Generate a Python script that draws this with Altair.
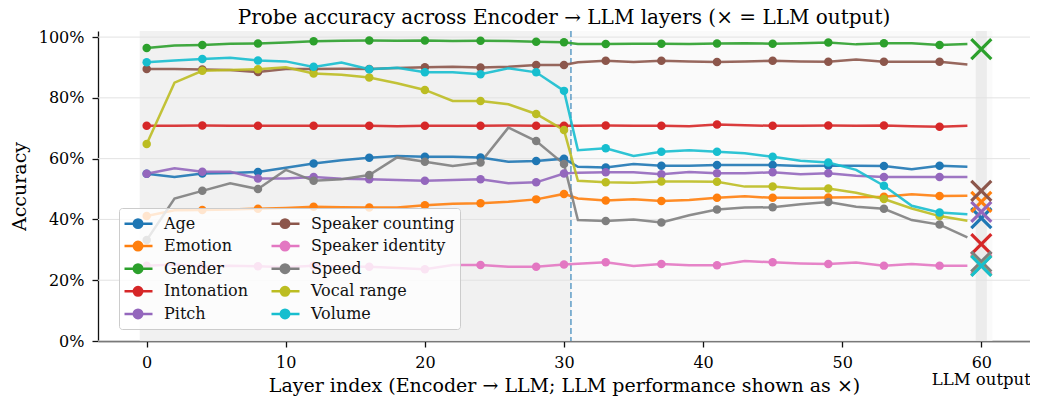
import altair as alt
import pandas as pd

series = ["Age", "Emotion", "Gender", "Intonation", "Pitch",
          "Speaker counting", "Speaker identity", "Speed", "Vocal range", "Volume"]
colors = ["#1f77b4", "#ff7f0e", "#2ca02c", "#d62728", "#9467bd",
          "#8c564b", "#e377c2", "#7f7f7f", "#bcbd22", "#17becf"]

enc_layers = list(range(0, 31, 2))
llm_layers = list(range(31, 60, 2))
marker_layers = [0, 4, 8, 12, 16, 20, 24, 28, 30, 33, 37, 41, 45, 49, 53, 57]
output_x = 60

age_enc = [55.0, 54.0, 55.1, 55.3, 55.6, 57.0, 58.4, 59.5, 60.3, 60.9, 60.6, 60.6, 60.4, 59.0, 59.2, 60.0]
age_llm = [57.3, 57.1, 58.2, 57.7, 57.7, 57.9, 57.9, 57.9, 57.6, 57.7, 57.7, 57.6, 56.5, 57.7, 57.3]
emotion_enc = [41.1, 43.0, 43.1, 43.3, 43.5, 43.8, 44.2, 44.0, 43.9, 43.9, 44.7, 45.2, 45.3, 45.8, 46.6, 48.4]
emotion_llm = [46.9, 46.2, 46.6, 46.1, 46.4, 47.1, 47.6, 47.1, 47.1, 47.2, 47.3, 47.5, 48.3, 47.7, 47.8]
gender_enc = [96.4, 97.2, 97.4, 97.8, 97.9, 98.2, 98.6, 98.8, 98.9, 98.8, 98.9, 98.7, 98.8, 98.7, 98.5, 98.3]
gender_llm = [97.7, 97.7, 97.8, 97.8, 97.7, 97.9, 98.0, 97.8, 98.0, 98.2, 97.6, 98.0, 98.0, 97.4, 97.7]
inton_enc = [70.8, 70.8, 70.9, 70.8, 70.8, 70.8, 70.8, 70.8, 70.8, 70.7, 70.8, 70.8, 70.8, 70.9, 70.8, 70.8]
inton_llm = [70.8, 70.9, 70.8, 70.8, 70.7, 71.2, 71.0, 70.8, 70.8, 70.9, 70.8, 70.9, 70.7, 70.5, 70.8]
pitch_enc = [55.0, 56.8, 55.7, 55.7, 53.5, 53.5, 54.0, 53.4, 53.2, 53.0, 52.7, 53.0, 53.2, 51.9, 52.2, 55.1]
pitch_llm = [55.4, 55.5, 55.5, 54.9, 55.6, 55.2, 55.2, 55.5, 54.9, 55.2, 54.4, 54.0, 54.0, 54.0, 54.0]
spkcnt_enc = [89.5, 89.5, 89.3, 89.2, 88.5, 89.5, 89.5, 89.6, 89.5, 89.8, 90.1, 90.2, 90.0, 90.2, 90.8, 90.8]
spkcnt_llm = [91.7, 92.2, 91.8, 92.2, 92.0, 91.8, 92.0, 92.2, 92.0, 91.9, 92.6, 91.9, 91.9, 91.9, 91.0]
spkid_enc = [24.8, 25.2, 24.5, 24.8, 24.6, 24.3, 24.8, 24.5, 24.4, 24.0, 23.6, 25.0, 25.0, 24.4, 24.4, 25.2]
spkid_llm = [25.4, 25.9, 24.7, 25.3, 24.9, 24.9, 26.3, 25.9, 25.5, 25.3, 25.8, 24.8, 25.3, 24.8, 24.8]
speed_enc = [33.2, 46.9, 49.4, 51.9, 50.0, 56.3, 52.7, 53.2, 54.6, 60.4, 59.0, 57.6, 58.7, 70.2, 65.8, 58.2]
speed_llm = [39.8, 39.5, 40.0, 39.0, 41.4, 43.3, 43.9, 44.0, 45.0, 45.7, 44.2, 43.5, 39.8, 38.3, 34.1]
vocal_enc = [64.8, 85.0, 88.9, 89.2, 89.4, 90.1, 88.0, 87.6, 86.7, 84.8, 82.6, 79.0, 79.0, 77.9, 74.7, 69.4]
vocal_llm = [52.7, 52.2, 52.1, 52.5, 52.5, 52.4, 50.8, 50.8, 50.1, 50.2, 48.8, 46.7, 43.6, 41.1, 39.6]
volume_enc = [91.7, 92.3, 92.8, 93.2, 92.3, 92.0, 90.2, 91.6, 89.4, 89.9, 88.4, 88.4, 87.8, 89.7, 88.4, 82.3]
volume_llm = [62.8, 63.4, 60.9, 62.3, 62.8, 62.3, 61.8, 60.6, 59.3, 58.7, 56.3, 51.1, 44.5, 42.3, 41.7]

llm_output = [40.4, 45.8, 96.0, 31.9, 42.5, 49.4, 25.3, 26.1, 24.8, 24.7]

enc_all = [age_enc, emotion_enc, gender_enc, inton_enc, pitch_enc,
           spkcnt_enc, spkid_enc, speed_enc, vocal_enc, volume_enc]
llm_all = [age_llm, emotion_llm, gender_llm, inton_llm, pitch_llm,
           spkcnt_llm, spkid_llm, speed_llm, vocal_llm, volume_llm]

rows = []
for i, s in enumerate(series):
    for L, v in zip(enc_layers + llm_layers, enc_all[i] + llm_all[i]):
        rows.append({"series": s, "order": i, "layer": L, "acc": v,
                     "marker": L in marker_layers})
df = pd.DataFrame(rows)
df_out = pd.DataFrame({"series": series, "order": list(range(10)),
                       "layer": [output_x] * 10, "acc": llm_output})

bg = pd.DataFrame({"x": [-0.5, 30.5, 59.6], "x2": [30.5, 60.8, 60.4],
                   "y": [0, 0, 0], "y2": [102, 102, 102],
                   "fill": ["#f1f1f1", "#fafafa", "#ececec"]})
grid = pd.DataFrame({"y": [0, 20, 40, 60, 80, 100]})
split = pd.DataFrame({"x": [30.5]})
lab = pd.DataFrame({"x": [output_x], "t": ["LLM output"]})

FONT = "DejaVu Serif"
xscale = alt.Scale(domain=[-3.5, 63.5], nice=False, zero=False)
yscale = alt.Scale(domain=[0, 102], nice=False)

xax = alt.Axis(values=[0, 10, 20, 30, 40, 50, 60], grid=False,
               title="Layer index (Encoder → LLM; LLM performance shown as ×)",
               tickSize=6, labelPadding=7, titleY=44, titleBaseline="middle",
               titleFontSize=19)
yax = alt.Axis(values=[0, 20, 40, 60, 80, 100], grid=False, title="Accuracy",
               labelExpr="datum.value + '%'", tickSize=6, labelPadding=8,
               titleX=-79, titleY=155, titleBaseline="middle", titleFontSize=19)

sym = ("M-1.11,0H2.0"
       "M0.86,0A0.47,0.47,0,1,1,-0.08,0A0.47,0.47,0,1,1,0.86,0Z")
leg = alt.Legend(title=None, orient="none", legendX=21, legendY=177,
                 columns=2, columnPadding=17, rowPadding=2.6,
                 symbolType=sym, symbolSize=324, symbolStrokeWidth=2.5,
                 symbolOpacity=1,
                 labelFont=FONT, labelFontSize=16, labelColor="#111",
                 labelOffset=19, padding=5,
                 fillColor="rgba(255,255,255,0.8)", strokeColor="#cccccc",
                 cornerRadius=3)
cscale = alt.Scale(domain=series, range=colors)

bg_layer = alt.Chart(bg).mark_rect().encode(
    x=alt.X("x:Q", scale=xscale, axis=xax), x2="x2:Q",
    y=alt.Y("y:Q", scale=yscale, axis=yax), y2="y2:Q",
    fill=alt.Fill("fill:N", scale=None))
grid_layer = alt.Chart(grid).mark_rule(color="#e2e2e2", strokeWidth=1).encode(y="y:Q")
split_layer = alt.Chart(split).mark_rule(color="#1f77b4", opacity=0.7, strokeWidth=1.5,
                                         strokeDash=[6, 3]).encode(x="x:Q")
lines = alt.Chart(df).mark_line(strokeWidth=2.5, opacity=0.9).encode(
    x="layer:Q", y="acc:Q", color=alt.Color("series:N", scale=cscale, legend=None),
    detail="series:N", order="layer:Q")
points = alt.Chart(df).transform_filter("datum.marker").mark_point(
    filled=True, size=72, opacity=1, strokeWidth=0).encode(
    x="layer:Q", y="acc:Q",
    fill=alt.Fill("series:N", scale=cscale, legend=leg),
    stroke=alt.Stroke("series:N", scale=cscale, legend=leg))
xs = alt.Chart(df_out).mark_point(
    shape="M-1,-1L1,1M-1,1L1,-1", size=400, strokeWidth=3.2, filled=False, opacity=1).encode(
    x="layer:Q", y="acc:Q", color=alt.Color("series:N", scale=cscale, legend=None),
    order="order:Q")
label = alt.Chart(lab).mark_text(font=FONT, fontSize=16.5, baseline="middle", color="#000").encode(
    x="x:Q", y=alt.value(349), text="t:N")

chart = alt.layer(bg_layer, grid_layer, split_layer, lines, points, xs, label).properties(
    width=932, height=310,
    title=alt.TitleParams("Probe accuracy across Encoder → LLM layers (× = LLM output)",
                          font=FONT, fontSize=20, fontWeight="normal", offset=1,
                          anchor="middle", color="#000"),
    autosize=alt.AutoSizeParams(type="none"),
    padding={"left": 90, "top": 23, "right": 0, "bottom": 58},
).configure(
    font=FONT, style={"guide-label": {"font": FONT}, "guide-title": {"font": FONT}}
).configure_view(stroke=None).configure_axis(
    labelFont=FONT, titleFont=FONT, labelFontSize=16,
    titleFontWeight="normal", labelColor="#000", titleColor="#000",
    domainColor="#111", tickColor="#111", domainWidth=1.3, tickWidth=1.3
).configure_legend(
    labelFont=FONT, labelFontSize=16, labelColor="#111"
)

chart.save("out.html", embed_options={"renderer": "svg", "actions": False})
